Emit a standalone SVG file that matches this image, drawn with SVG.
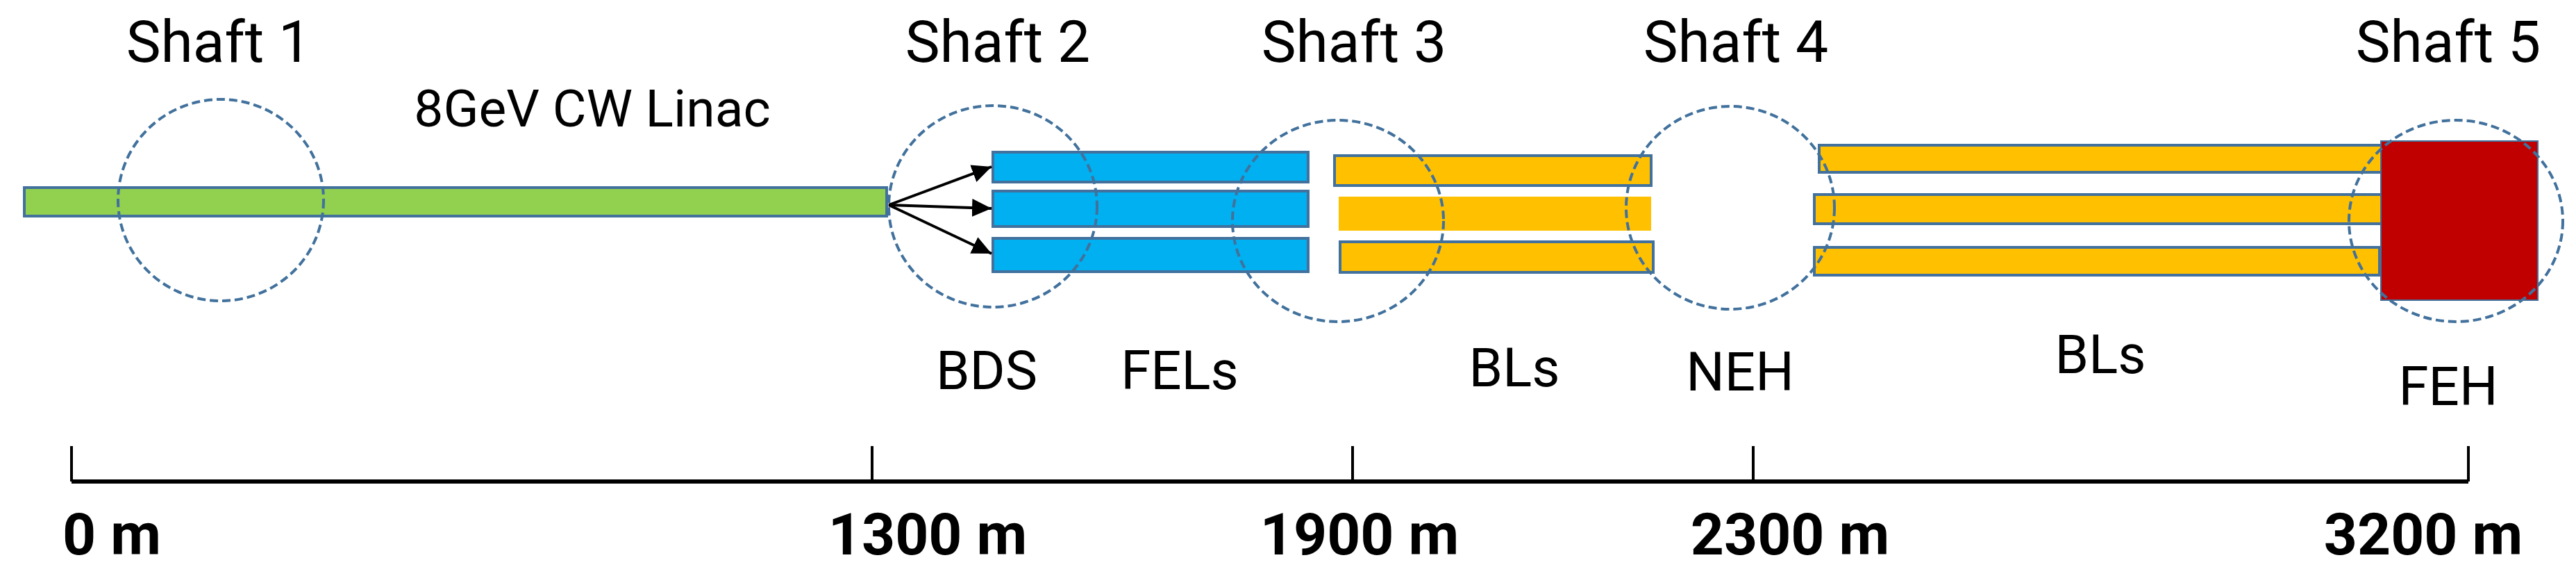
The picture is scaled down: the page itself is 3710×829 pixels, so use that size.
<svg xmlns="http://www.w3.org/2000/svg" width="3710" height="829" viewBox="0 0 3710 829">
<style>
.lbl{font-family:Roboto,"Liberation Sans",sans-serif;fill:#000;text-anchor:middle}
.shaft{font-size:84px}
.sub{font-size:78px}
.axl{font-size:84px;font-weight:bold}
.box{stroke:#41719C;stroke-width:4}
.green{fill:#92D050}
.blue{fill:#00B0F0}
.yel{fill:#FFC000}
.red{fill:#C00000;stroke:#41719C;stroke-width:2}
.shaftc{fill:none;stroke:#41719C;stroke-width:4;stroke-dasharray:12 6}
.arr{stroke:#000;stroke-width:4;fill:none;marker-end:url(#ah)}
.axis{stroke:#000;fill:none}
</style>
<defs>
<marker id="ah" markerUnits="userSpaceOnUse" markerWidth="30" markerHeight="26" refX="28" refY="13" orient="auto">
<path d="M0,0 L28,13 L0,26 Z" fill="#000"/>
</marker>
</defs>
<rect width="3710" height="829" fill="#fff"/>

<g id="linac">
<rect class="box green" x="35" y="270" width="1242" height="41"/>
<text class="lbl" x="853" y="182" style="font-size:75px">8GeV CW Linac</text>
</g>

<g id="fels">
<rect class="box blue" x="1430" y="219" width="454" height="43"/>
<rect class="box blue" x="1430" y="275" width="454" height="51"/>
<rect class="box blue" x="1430" y="343" width="454" height="48"/>
<text class="lbl sub" x="1699" y="560">FELs</text>
</g>

<g id="bls1">
<rect class="box yel" x="1922" y="224" width="456" height="43"/>
<rect class="yel" x="1928" y="283" width="450" height="49"/>
<rect class="box yel" x="1930" y="348" width="451" height="44"/>
<text class="lbl sub" x="2181" y="556">BLs</text>
</g>

<g id="bls2">
<rect class="box yel" x="2620" y="209" width="810" height="39"/>
<rect class="box yel" x="2613" y="280" width="817" height="42"/>
<rect class="box yel" x="2613" y="356" width="814" height="40"/>
<text class="lbl sub" x="3025" y="537">BLs</text>
</g>

<g id="feh">
<rect class="red" x="3429" y="203" width="226" height="229"/>
<text class="lbl sub" x="3526" y="583">FEH</text>
</g>

<g id="shaft1">
<ellipse class="shaftc" cx="318" cy="288" rx="148" ry="145"/>
<text class="lbl shaft" x="315" y="89">Shaft 1</text>
</g>
<g id="shaft2">
<ellipse class="shaftc" cx="1430" cy="297" rx="150" ry="145"/>
<text class="lbl shaft" x="1437" y="89">Shaft 2</text>
<text class="lbl sub" x="1421" y="560">BDS</text>
</g>
<g id="shaft3">
<ellipse class="shaftc" cx="1927" cy="318" rx="152" ry="145"/>
<text class="lbl shaft" x="1950" y="89">Shaft 3</text>
</g>
<g id="shaft4">
<ellipse class="shaftc" cx="2492" cy="299" rx="150" ry="146"/>
<text class="lbl shaft" x="2500" y="89">Shaft 4</text>
<text class="lbl sub" x="2506" y="562">NEH</text>
</g>
<g id="shaft5">
<ellipse class="shaftc" cx="3537" cy="318" rx="154" ry="145"/>
<text class="lbl shaft" x="3526" y="89">Shaft 5</text>
</g>

<g id="connectors">
<line class="arr" x1="1280" y1="295" x2="1428" y2="240"/>
<line class="arr" x1="1280" y1="295" x2="1428" y2="300"/>
<line class="arr" x1="1280" y1="295" x2="1428" y2="365"/>
</g>

<g id="scale">
<path class="axis" stroke-width="6" d="M103,693 H3555"/>
<path class="axis" stroke-width="4" d="M103,642 V693 M1256,642 V693 M1948,642 V693 M2525,642 V693 M3555,642 V693"/>
<text class="lbl axl" x="161" y="798">0 m</text>
<text class="lbl axl" x="1336" y="798">1300 m</text>
<text class="lbl axl" x="1958" y="798">1900 m</text>
<text class="lbl axl" x="2578" y="798">2300 m</text>
<text class="lbl axl" x="3490" y="798">3200 m</text>
</g>
</svg>
